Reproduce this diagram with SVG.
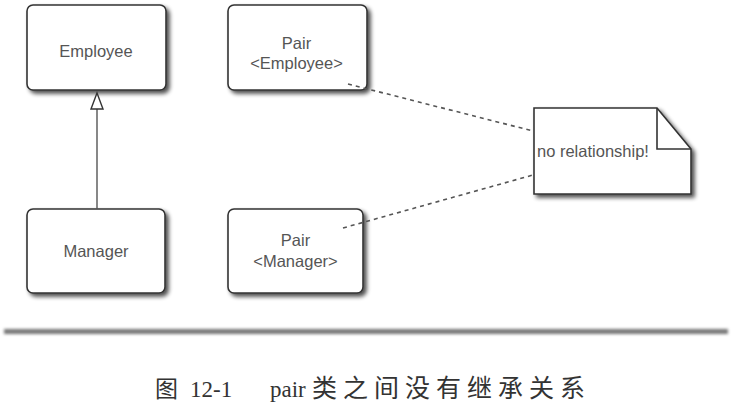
<svg xmlns="http://www.w3.org/2000/svg" width="731" height="419" viewBox="0 0 731 419">
<style>
.box{fill:#fff;stroke:#333;stroke-width:1.6;filter:url(#sh)}
.lbl{font-family:"Liberation Sans",Arial,sans-serif;font-size:16.5px;fill:#555;text-anchor:middle}
.dash{fill:none;stroke:#555;stroke-width:1.6;stroke-dasharray:4 4}
.cap{font-family:"Liberation Serif","Noto Sans CJK SC",serif;font-size:23px;fill:#333}
</style>
<defs>
<filter id="sh" x="-10%" y="-10%" width="130%" height="130%">
<feGaussianBlur in="SourceAlpha" stdDeviation="2"/>
<feOffset dx="3" dy="3" result="b"/>
<feComponentTransfer><feFuncA type="linear" slope="0.7"/></feComponentTransfer>
<feMerge><feMergeNode/><feMergeNode in="SourceGraphic"/></feMerge>
</filter>
<filter id="blur" x="-5%" y="-200%" width="110%" height="500%">
<feGaussianBlur stdDeviation="1.5"/>
</filter>
</defs>
<rect width="731" height="419" fill="#fff"/>
<g id="employee">
<rect class="box" x="27" y="5" width="139" height="85" rx="6"/>
<text class="lbl" x="96" y="57">Employee</text>
</g>
<g id="pair-employee">
<rect class="box" x="228" y="5" width="139" height="85" rx="6"/>
<text class="lbl" x="296.5" y="49">Pair</text>
<text class="lbl" x="296.5" y="69">&lt;Employee&gt;</text>
</g>
<g id="manager">
<rect class="box" x="27" y="209" width="138" height="84" rx="6"/>
<text class="lbl" x="96" y="257">Manager</text>
</g>
<g id="pair-manager">
<rect class="box" x="228" y="209" width="135" height="84" rx="6"/>
<text class="lbl" x="295.5" y="246">Pair</text>
<text class="lbl" x="295.5" y="267">&lt;Manager&gt;</text>
</g>
<g id="note">
<polygon points="534,108 657,108 691,149 691,194 534,194" fill="#fff" stroke="#333" stroke-width="1.6" filter="url(#sh)"/>
<polyline points="657,108 657,149 691,149" fill="none" stroke="#333" stroke-width="1.6"/>
<text x="537" y="157" style="font-family:'Liberation Sans',Arial,sans-serif;font-size:16.5px;fill:#555">no relationship!</text>
</g>
<g id="connectors">
<line x1="97" y1="209" x2="97" y2="108" stroke="#555" stroke-width="1.4"/>
<path d="M91,109 L97,93 L103,109 Z" fill="#fff" stroke="#333" stroke-width="1.4"/>
<line class="dash" x1="348" y1="84" x2="533" y2="131"/>
<line class="dash" x1="343" y1="228" x2="533" y2="175"/>
</g>
<rect x="4" y="329" width="724" height="5" fill="#777" filter="url(#blur)"/>
<text class="cap" x="155" y="397">图<tspan x="190">12-1</tspan><tspan x="270">pair</tspan><tspan x="312" font-size="25" letter-spacing="6">类之间没有继承关系</tspan></text>
</svg>
